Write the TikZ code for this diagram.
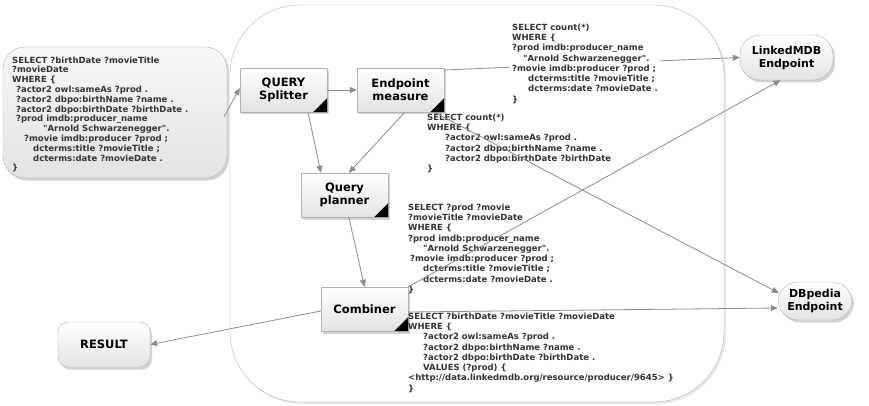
\documentclass[tikz,border=0pt]{standalone}
\usepackage{fontspec}
\setmainfont{DejaVu Sans}[Ligatures=TeXOff]
\usetikzlibrary{shadows,arrows.meta,calc}

\definecolor{linegray}{HTML}{8C8C8C}
\definecolor{textgray}{HTML}{333333}

\begin{document}
\begin{tikzpicture}[x=1pt,y=-1pt,
  softshadow/.style={drop shadow={opacity=0.35,shadow xshift=2pt,shadow yshift=-2.5pt}},
  frame/.style={draw=gray!60, fill=white, rounded corners=70pt, inner sep=0,
    drop shadow={opacity=0.18,shadow xshift=2pt,shadow yshift=-2pt}},
  procbox/.style={draw=gray!60, top color=white, bottom color=gray!22, softshadow,
    minimum width=87pt, minimum height=44pt, inner sep=0, align=center,
    font=\bfseries\fontsize{11.5}{13}\selectfont},
  endpointbox/.style={draw=gray!60, top color=white, bottom color=gray!22, softshadow,
    rounded corners=20pt, inner sep=0, align=center,
    font=\bfseries\fontsize{11}{13}\selectfont},
  resultbox/.style={draw=gray!60, top color=white, bottom color=gray!22, softshadow,
    rounded corners=10pt, minimum width=92pt, minimum height=45pt, inner sep=0,
    font=\bfseries\fontsize{11.5}{13}\selectfont},
  querybox/.style={draw=gray!60, top color=gray!6, bottom color=gray!22, softshadow,
    rounded corners=22pt, minimum width=224pt, minimum height=131pt, inner sep=0},
  sql/.style={anchor=north west, align=left, inner sep=0, text=textgray,
    font=\bfseries\fontsize{8.5}{10.3}\selectfont},
  flow/.style={draw=linegray, line width=0.8pt,
    -{Triangle[length=7pt,width=6pt,fill=linegray]}},
]
\useasboundingbox (0,0) rectangle (869,406);

% outer frame around the federated engine
\node[frame, minimum width=494pt, minimum height=397pt] (engine) at (477,203.5) {};

% incoming query
\node[querybox] (qbox) at (115,112.5) {};
\node[sql, font=\bfseries\fontsize{8.5}{9.8}\selectfont] (qtext) at (12,56.5) {%
SELECT ?birthDate ?movieTitle\\
?movieDate\\
WHERE \{\\
\hspace*{4pt}?actor2 owl:sameAs ?prod .\\
\hspace*{4pt}?actor2 dbpo:birthName ?name .\\
\hspace*{4pt}?actor2 dbpo:birthDate ?birthDate .\\
\hspace*{4pt}?prod imdb:producer\_name\\
\hspace*{31pt}"Arnold Schwarzenegger".\\
\hspace*{12pt}?movie imdb:producer ?prod ;\\
\hspace*{21pt}dcterms:title ?movieTitle ;\\
\hspace*{21pt}dcterms:date ?movieDate .\\
\}};

% engine components
\node[procbox] (split) at (283.5,90) {QUERY\\Splitter};
\node[procbox] (measure) at (400.5,90) {Endpoint\\measure};
\node[procbox] (planner) at (344.5,195) {Query\\planner};
\node[procbox] (comb) at (364.5,309) {Combiner};
\foreach \n in {split,measure,planner,comb}
  \fill[black] (\n.south east) -- ++(-14,0) -- ++(14,-14) -- cycle;

% endpoints and result
\node[endpointbox, minimum width=93pt, minimum height=45pt] (linked) at (786.5,57.5) {LinkedMDB\\Endpoint};
\node[endpointbox, minimum width=74pt, minimum height=38pt] (dbp) at (815,301) {DBpedia\\Endpoint};
\node[resultbox] (result) at (104,344.5) {RESULT};

% connectors
\draw[flow] ($(qbox.east)+(-3,4)$) -- ($(split.west)+(0,-2)$);
\draw[flow] (split.east) -- (measure.west);
\draw[flow] ($(split.south west)!0.78!(split.south east)$) -- ($(planner.north west)!0.23!(planner.north east)$);
\draw[flow] ($(measure.south west)!0.55!(measure.south east)$) -- ($(planner.north west)!0.55!(planner.north east)$);
\draw[flow] ($(measure.east)+(0,-20)$) -- (linked.west);
\draw[flow] ($(planner.south west)!0.55!(planner.south east)$) -- (comb.north);
\draw[flow] ($(comb.west)+(0,2)$) -- (result.east);
\draw[flow] ($(comb.east)+(0,3)$) -- ($(dbp.west)+(0,7)$);

% subquery sent to LinkedMDB
\node[sql, fill=white, inner sep=2pt] (q1) at (510,21.5) {%
SELECT count(*)\\
WHERE \{\\
?prod imdb:producer\_name\\
\hspace*{11pt}"Arnold Schwarzenegger".\\
?movie imdb:producer ?prod ;\\
\hspace*{16pt}dcterms:title ?movieTitle ;\\
\hspace*{16pt}dcterms:date ?movieDate .\\
\}};

% subquery sent to DBpedia
\node[sql] (q2) at (427,113.5) {%
SELECT count(*)\\
WHERE \{\\
\hspace*{18pt}?actor2 owl:sameAs ?prod .\\
\hspace*{18pt}?actor2 dbpo:birthName ?name .\\
\hspace*{18pt}?actor2 dbpo:birthDate ?birthDate\\
\}};

% query executed on LinkedMDB
\node[sql] (q3) at (408,203.5) {%
SELECT ?prod ?movie\\
?movieTitle ?movieDate\\
WHERE \{\\
?prod imdb:producer\_name\\
\hspace*{15pt}"Arnold Schwarzenegger".\\
\hspace*{2pt}?movie imdb:producer ?prod ;\\
\hspace*{15pt}dcterms:title ?movieTitle ;\\
\hspace*{15pt}dcterms:date ?movieDate .\\
\}};

% query executed on DBpedia with bound values
\node[sql] (q4) at (408,312.5) {%
SELECT ?birthDate ?movieTitle ?movieDate\\
WHERE \{\\
\hspace*{15pt}?actor2 owl:sameAs ?prod .\\
\hspace*{15pt}?actor2 dbpo:birthName ?name .\\
\hspace*{15pt}?actor2 dbpo:birthDate ?birthDate .\\
\hspace*{15pt}VALUES (?prod) \{\\
<http://data.linkedmdb.org/resource/producer/9645> \}\\
\}};

% connectors drawn across the query texts
\draw[flow] ($(measure.south east)+(-10,0)$) -- ($(dbp.west)+(1,-8)$);
\draw[flow] (comb.north east) -- ($(linked.south)+(-6,0)$);
\end{tikzpicture}
\end{document}
